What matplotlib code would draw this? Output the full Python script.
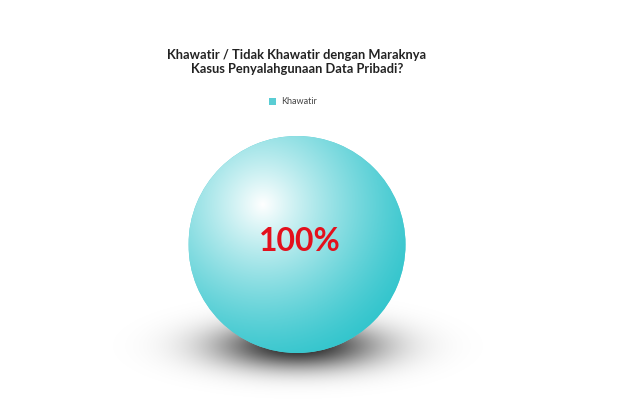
import numpy as np
import matplotlib.pyplot as plt

plt.rcParams['font.family'] = ['Lato', 'DejaVu Sans']

# data
labels = ['Khawatir']
values = [100]
colors = ['#5ACDD4']
pct_labels = ['100%']
title = 'Khawatir / Tidak Khawatir dengan Maraknya\nKasus Penyalahgunaan Data Pribadi?'

W, H = 620, 413
fig = plt.figure(figsize=(W / 100, H / 100), dpi=100)
ax = fig.add_axes([0, 0, 1, 1])

cx, cy, r = 297, 244.5, 108.5

# soft shadow under the ball
x0, x1, y0, y1 = 80, 520, 240, 413
gx, gy = np.meshgrid(np.linspace(x0, x1, 440), np.linspace(y0, y1, 180))
a = np.exp(-((gx - 298) / 80) ** 2 - ((gy - 346) / 23) ** 2) * 0.85
shadow = np.zeros(gx.shape + (4,))
shadow[..., 3] = a
ax.imshow(shadow, extent=(x0, x1, y1, y0), interpolation='bilinear', zorder=1)

wedges, _ = ax.pie(values, labels=None, colors=colors, radius=r, center=(cx, cy),
                   startangle=90, wedgeprops=dict(linewidth=0))
for w in wedges:
    w.set_zorder(2)

# sphere shading, clipped to the pie wedge
n = 400
u, v = np.meshgrid(np.linspace(-1, 1, n), np.linspace(-1, 1, n))
d = np.hypot(u + 0.32, v + 0.37)
k = np.clip(1 - d / 1.55, 0, 1) ** 1.3
base = np.array([0.19, 0.77, 0.80])
img = np.ones((n, n, 4))
img[..., :3] = base * (1 - k[..., None]) + k[..., None]
im = ax.imshow(img, extent=(cx - r, cx + r, cy + r, cy - r), interpolation='bilinear', zorder=3)
im.set_clip_path(wedges[0])

for w, t in zip(wedges, pct_labels):
    ax.text(cx + 3, cy - 3, t, ha='center', va='center', fontsize=23,
            fontweight='bold', color='#E3101C', zorder=5)

ax.set_xlim(0, W)
ax.set_ylim(H, 0)
ax.set_aspect('auto')
ax.axis('off')

fig.text(297 / W, 1 - 62 / H, title, ha='center', va='center', fontsize=9.3,
         fontweight='bold', color='#222222', linespacing=1.2)

fig.legend(wedges, labels, loc='center', bbox_to_anchor=(293 / W, 1 - 102 / H),
           frameon=False, fontsize=6.5, handlelength=0.8, handleheight=0.8,
           handletextpad=0.5, labelcolor='#444444')

fig.savefig('out.png', dpi=100, facecolor='white')
